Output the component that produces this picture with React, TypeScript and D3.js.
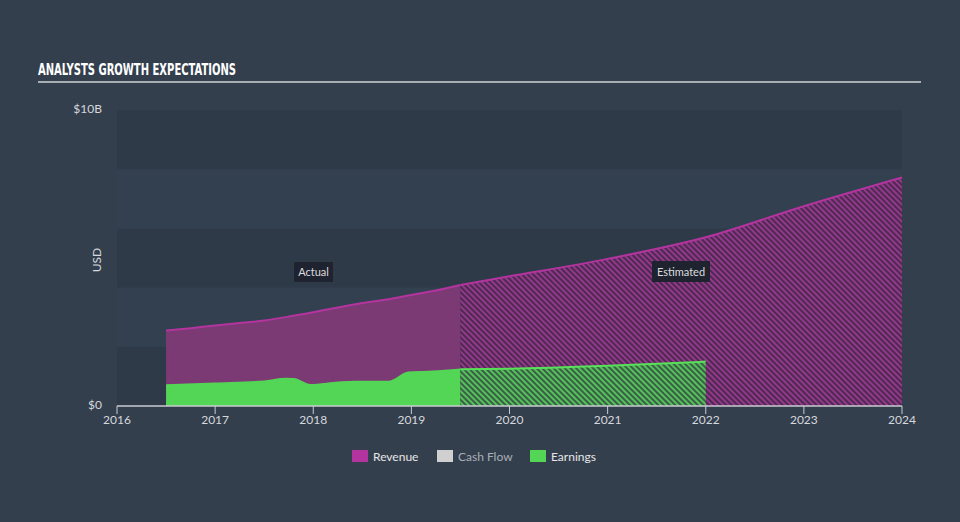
import React from "react";
import * as d3 from "d3";

const yearTicks = [2016, 2017, 2018, 2019, 2020, 2021, 2022, 2023, 2024];
const legendNames = ["Revenue", "Cash Flow", "Earnings"];

// values in billions USD
const revenueActual: [number, number][] = [
  [2016.5, 2.55], [2016.75, 2.63], [2017.0, 2.72], [2017.25, 2.8], [2017.5, 2.89],
  [2017.75, 3.02], [2018.0, 3.17], [2018.25, 3.33], [2018.5, 3.48], [2018.75, 3.6],
  [2019.0, 3.75], [2019.25, 3.9], [2019.5, 4.09],
];
const revenueEstimate: [number, number][] = [
  [2019.5, 4.09], [2020.0, 4.38], [2021.0, 4.97], [2022.0, 5.7], [2023.0, 6.75], [2024.0, 7.72],
];
const earningsActual: [number, number][] = [
  [2016.5, 0.71], [2017.0, 0.77], [2017.5, 0.84], [2017.72, 0.93], [2017.8, 0.92],
  [2017.97, 0.72], [2018.25, 0.8], [2018.42, 0.83], [2018.77, 0.83], [2018.97, 1.14],
  [2019.22, 1.17], [2019.5, 1.24],
];
const earningsEstimate: [number, number][] = [
  [2019.5, 1.24], [2020.0, 1.26], [2021.0, 1.36], [2022.0, 1.5],
];
const yTickValues = [0, 10];
const yTickLabels = ["$0", "$10B"];

const W = 960, H = 522;
const BG = "#343f4e";
const REV = "#b4349f";
const EARN = "#53d656";

export default function App() {
  const x = d3.scaleLinear().domain([2016, 2024]).range([117, 902]);
  const y = d3.scaleLinear().domain([0, 10]).range([406, 110]);

  const area = d3.area<[number, number]>()
    .x(d => x(d[0])).y0(y(0)).y1(d => y(d[1])).curve(d3.curveMonotoneX);
  const line = d3.line<[number, number]>()
    .x(d => x(d[0])).y(d => y(d[1])).curve(d3.curveMonotoneX);

  const bands = d3.range(0, 10, 2);

  const legendX = [352, 437, 530];
  const legendColors = [REV, "#d0d0d0", EARN];
  const legendText = ["#e6e6e6", "#a9aeb5", "#e6e6e6"];

  return (
    <svg width={W} height={H} style={{ position: "absolute", left: 0, top: 0, display: "block" }}
      fontFamily="Lato, 'Open Sans', sans-serif">
      <defs>
        <pattern id="hatchRev" width={4} height={4} patternUnits="userSpaceOnUse" patternTransform="rotate(-45)">
          <rect width={4} height={4} fill="#4e2a52" />
          <line x1={1} y1={0} x2={1} y2={4} stroke="#93388a" strokeWidth={2} />
        </pattern>
        <pattern id="hatchEarn" width={4} height={4} patternUnits="userSpaceOnUse" patternTransform="rotate(-45)">
          <rect width={4} height={4} fill="#3a5e48" />
          <line x1={1} y1={0} x2={1} y2={4} stroke="#55c259" strokeWidth={2} />
        </pattern>
      </defs>
      <rect width={W} height={H} fill={BG} />

      {/* title */}
      <text x={38} y={75} fill="#ffffff" fontFamily="'DejaVu Sans Condensed', 'DejaVu Sans', sans-serif"
        fontWeight="bold" fontSize={15} textLength={198} lengthAdjust="spacingAndGlyphs">
        ANALYSTS GROWTH EXPECTATIONS
      </text>
      <line x1={38} x2={921} y1={82} y2={82} stroke="#a9aeb4" strokeWidth={2} />

      {/* plot bands */}
      {bands.map((b, i) => (
        <rect key={b} x={x(2016)} width={x(2024) - x(2016)} y={y(b + 2)} height={y(b) - y(b + 2)}
          fill={i % 2 === 0 ? "#2f3a49" : "#334050"} />
      ))}

      {/* revenue */}
      <path d={area(revenueActual) || ""} fill="#7b3a74" />
      <path d={area(revenueEstimate) || ""} fill="url(#hatchRev)" />
      <path d={line(revenueActual) || ""} fill="none" stroke={REV} strokeWidth={2} />
      <path d={line(revenueEstimate) || ""} fill="none" stroke={REV} strokeWidth={2} />

      {/* earnings */}
      <path d={area(earningsActual) || ""} fill={EARN} />
      <path d={area(earningsEstimate) || ""} fill="url(#hatchEarn)" />
      <path d={line(earningsActual) || ""} fill="none" stroke={EARN} strokeWidth={1.5} />
      <path d={line(earningsEstimate) || ""} fill="none" stroke="#58e058" strokeWidth={2} />

      {/* x axis */}
      <line x1={x(2016)} x2={x(2024)} y1={406} y2={406} stroke="#c9cdd2" strokeWidth={1.5} />
      {yearTicks.map(t => (
        <g key={t}>
          <line x1={x(t)} x2={x(t)} y1={406} y2={414} stroke="#c9cdd2" strokeWidth={1} />
          <text x={x(t)} y={424} textAnchor="middle" fill="#d5d8dc" fontSize={12}>{t}</text>
        </g>
      ))}

      {/* y axis labels */}
      {yTickValues.map((v, i) => (
        <text key={v} x={102} y={y(v) + 3} textAnchor="end" fill="#d5d8dc" fontSize={12}>{yTickLabels[i]}</text>
      ))}
      <text transform={`translate(101,${y(5) + 2}) rotate(-90)`} textAnchor="middle" fill="#d5d8dc" fontSize={12}>USD</text>

      {/* actual / estimated labels */}
      <rect x={294} y={262} width={39} height={20} fill="#1f2330" />
      <text x={313.5} y={276} textAnchor="middle" fill="#dcdcdc" fontSize={11}>Actual</text>
      <rect x={652} y={261} width={58} height={21} fill="#1f2330" />
      <text x={681} y={276} textAnchor="middle" fill="#dcdcdc" fontSize={11}>Estimated</text>

      {/* legend */}
      {legendNames.map((n, i) => (
        <g key={n}>
          <rect x={legendX[i]} y={450} width={16} height={12} fill={legendColors[i]} />
          <text x={legendX[i] + 21} y={460.5} fill={legendText[i]} fontSize={12}>{n}</text>
        </g>
      ))}
    </svg>
  );
}
